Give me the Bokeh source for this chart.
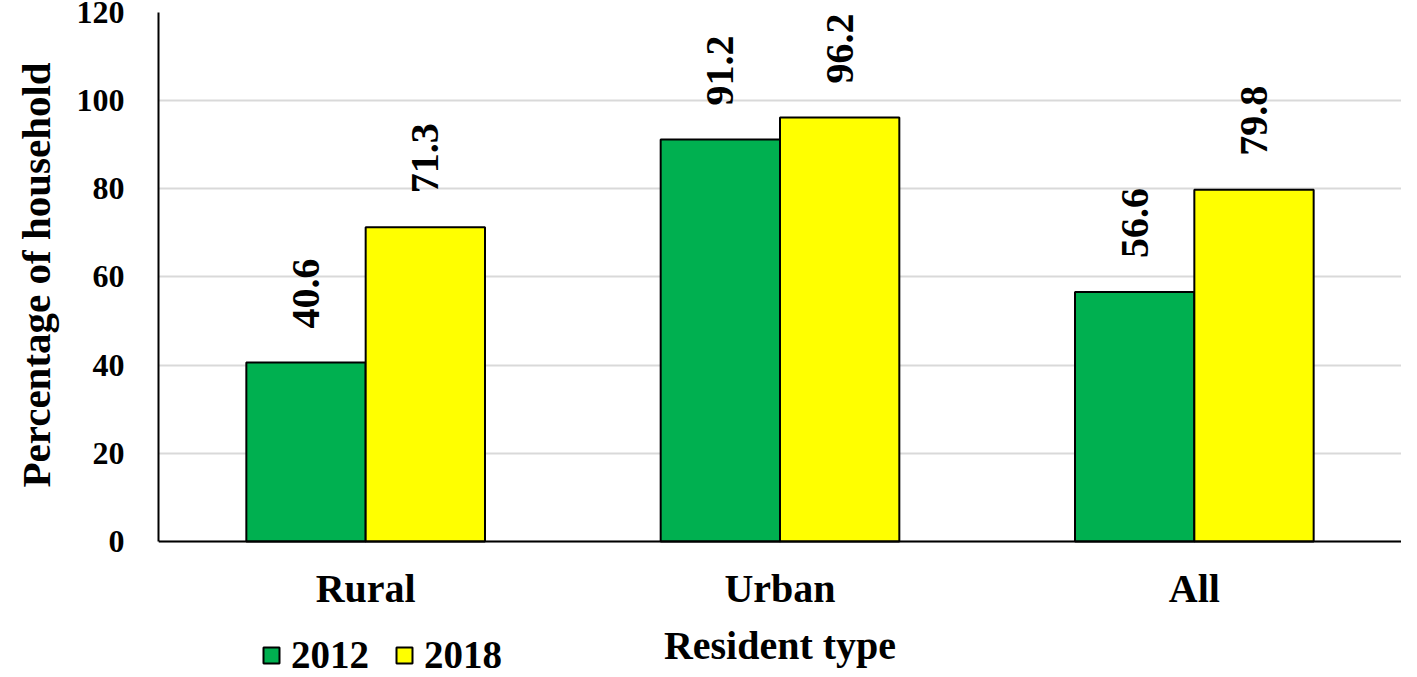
from math import pi
from bokeh.plotting import figure
from bokeh.models import (ColumnDataSource, LabelSet, Legend, LegendItem,
                          Range1d, FixedTicker, Title)
from bokeh.transform import dodge
from bokeh.embed import file_html
from bokeh.resources import INLINE

categories = ["Rural", "Urban", "All"]
years = ["2012", "2018"]
v2012 = [40.6, 91.2, 56.6]
v2018 = [71.3, 96.2, 79.8]
y_ticks = [0, 20, 40, 60, 80, 100, 120]

FONT = "Liberation Serif"
GREEN = "#00b050"
YELLOW = "#ffff00"

source = ColumnDataSource(dict(
    cat=categories,
    v2012=v2012,
    v2018=v2018,
    l2012=[f"{v:.1f}" for v in v2012],
    l2018=[f"{v:.1f}" for v in v2018],
))

# extra room below zero holds the x-axis labels and legend inside the frame
p = figure(x_range=categories, y_range=Range1d(-29.04, 120),
           width=1401, height=669, output_backend="svg",
           toolbar_location=None,
           min_border_left=150, min_border_right=0,
           min_border_top=12, min_border_bottom=0)

BW = 0.288
OFF = 0.144
r1 = p.vbar(x=dodge("cat", -OFF, range=p.x_range), top="v2012", width=BW,
            source=source, fill_color=GREEN, line_color="black", line_width=2)
r2 = p.vbar(x=dodge("cat", OFF, range=p.x_range), top="v2018", width=BW,
            source=source, fill_color=YELLOW, line_color="black", line_width=2)

for col, lab, off in (("v2012", "l2012", -OFF), ("v2018", "l2018", OFF)):
    ls = LabelSet(x=dodge("cat", off, range=p.x_range), y=col, text=lab,
                  source=source, angle=pi / 2, text_align="left",
                  text_baseline="middle", y_offset=34,
                  text_font=FONT, text_font_style="bold",
                  text_font_size="40px", text_color="black")
    p.add_layout(ls)

p.outline_line_color = None
p.xgrid.grid_line_color = None
p.ygrid.grid_line_color = "#d9d9d9"
p.ygrid.grid_line_width = 2

p.yaxis.ticker = FixedTicker(ticks=y_ticks)
p.yaxis.bounds = (0, 120)
p.xaxis.fixed_location = 0
for ax in (p.xaxis, p.yaxis):
    ax.major_tick_line_color = None
    ax.minor_tick_line_color = None
    ax.axis_line_color = "black"
    ax.axis_line_width = 2
    ax.major_label_text_font = FONT
    ax.major_label_text_font_style = "bold"
    ax.major_label_text_color = "black"
    ax.axis_label_text_font = FONT
    ax.axis_label_text_font_style = "bold"
    ax.axis_label_text_color = "black"

p.yaxis.major_label_text_font_size = "32px"
p.yaxis.major_label_standoff = 28

ylabel = Title(text="Percentage of household", align="left", offset=182,
               standoff=25, vertical_align="top", text_font=FONT,
               text_font_style="bold", text_font_size="41px",
               text_color="black")
p.add_layout(ylabel, "left")

p.xaxis.major_label_text_font_size = "40px"
p.xaxis.major_label_standoff = 19
p.xaxis.axis_label = "Resident type"
p.xaxis.axis_label_text_font_size = "40px"
p.xaxis.axis_label_standoff = 8

legend = Legend(items=[LegendItem(label=years[0], renderers=[r1]),
                       LegendItem(label=years[1], renderers=[r2])],
                orientation="horizontal", location=(103, -8),
                glyph_width=20, glyph_height=20, label_standoff=10,
                spacing=25, padding=0, margin=0,
                label_text_font=FONT, label_text_font_style="bold",
                label_text_font_size="39px", label_text_color="black",
                background_fill_alpha=0, border_line_color=None)
p.add_layout(legend, "center")

open("out.html", "w").write(file_html(p, INLINE))
